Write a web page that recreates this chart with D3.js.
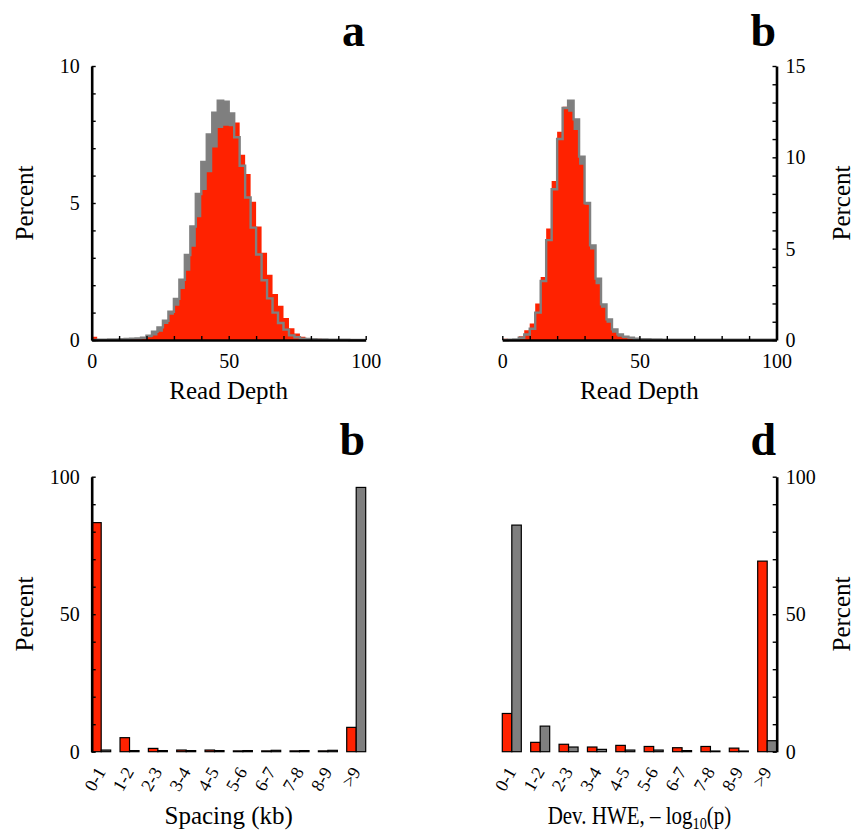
<!DOCTYPE html>
<html>
<head>
<meta charset="utf-8">
<script src="https://cdn.jsdelivr.net/npm/d3@7"></script>
<style>
  html, body { margin: 0; padding: 0; background: #fff; }
  svg text { font-family: "Liberation Serif", "Times New Roman", serif; fill: #000; }
</style>
</head>
<body>
<svg id="fig" width="857" height="831"></svg>
<script>
// ---- Read-depth histograms (bins of 2, percent of sites) ----
const binStarts = d3.range(0, 100, 2);

const depthARed = [
  0.12, 0.01, 0.01, 0.01, 0.02, 0.02, 0.02, 0.03, 0.03, 0.04,
  0.10, 0.16, 0.30, 0.58, 0.92, 1.25, 1.86, 2.53, 3.40, 4.48,
  5.47, 6.12, 7.03, 7.74, 7.82, 7.80, 7.94, 6.76, 6.06, 5.05,
  4.14, 3.18, 2.38, 1.68, 1.25, 0.80, 0.43, 0.24, 0.12, 0.07,
  0.05, 0.05, 0.04, 0.03, 0.02, 0.02, 0.01, 0.01, 0.01, 0.01
];
const depthAGrey = [
  0.00, 0.01, 0.01, 0.02, 0.02, 0.03, 0.04, 0.05, 0.06, 0.08,
  0.16, 0.30, 0.46, 0.70, 1.03, 1.50, 2.20, 3.10, 4.14, 5.33,
  6.50, 7.50, 8.30, 8.73, 8.70, 8.27, 7.40, 6.36, 5.20, 4.10,
  3.12, 2.18, 1.52, 1.00, 0.62, 0.38, 0.17, 0.10, 0.05, 0.04,
  0.03, 0.02, 0.02, 0.01, 0.01, 0.01, 0.01, 0.00, 0.00, 0.00
];
const depthBRed = [
  0.07, 0.03, 0.05, 0.20, 0.53, 0.90, 2.00, 3.45, 6.10, 8.70,
  11.40, 12.77, 12.50, 11.50, 9.60, 7.40, 4.96, 3.05, 1.77, 0.95,
  0.40, 0.18, 0.09, 0.05, 0.03, 0.02, 0.02, 0.01, 0.01, 0.01,
  0.01, 0.01, 0.00, 0.00, 0.00, 0.00, 0.00, 0.00, 0.00, 0.00,
  0.00, 0.00, 0.00, 0.00, 0.00, 0.00, 0.00, 0.00, 0.00, 0.00
];
const depthBGrey = [
  0.00, 0.01, 0.03, 0.12, 0.30, 0.62, 1.50, 3.23, 5.47, 8.25,
  11.00, 12.70, 13.10, 12.08, 10.04, 7.50, 5.18, 3.36, 1.95, 1.13,
  0.58, 0.31, 0.18, 0.13, 0.07, 0.05, 0.04, 0.03, 0.03, 0.02,
  0.02, 0.02, 0.01, 0.01, 0.01, 0.01, 0.01, 0.01, 0.01, 0.01,
  0.01, 0.01, 0.01, 0.01, 0.01, 0.01, 0.01, 0.01, 0.01, 0.01
];

// ---- Binned bar charts ----
const categories = ["0-1", "1-2", "2-3", "3-4", "4-5", "5-6", "6-7", "7-8", "8-9", ">9"];
const spacingRed  = [83.3, 5.1, 1.2, 0.6, 0.6, 0.3, 0.3, 0.3, 0.3, 8.85];
const spacingGrey = [0.6, 0.4, 0.4, 0.4, 0.4, 0.4, 0.5, 0.4, 0.5, 96.1];
const hweRed  = [13.9, 3.4, 2.7, 1.7, 2.3, 1.9, 1.45, 1.9, 1.3, 69.3];
const hweGrey = [82.4, 9.3, 1.7, 0.85, 0.6, 0.6, 0.4, 0.25, 0.25, 4.0];

// ---- Tick values ----
const depthTicks = d3.range(0, 101, 10);
const depthTickLabels = [0, 50, 100];
const pctATicks = d3.range(0, 11, 1), pctALabels = [0, 5, 10];
const pctBTicks = d3.range(0, 16, 1), pctBLabels = [0, 5, 10, 15];
const pctBarTicks = d3.range(0, 101, 10), pctBarLabels = [0, 50, 100];

const RED = "#ff2200", GREY = "#7f7f7f";
const SERIF = "Liberation Serif, Times New Roman, serif";
const svg = d3.select("#fig");

function styleAxis(g) {
  g.attr("font-family", SERIF);
  g.select(".domain").attr("stroke", "#000").attr("stroke-width", 2.6);
  g.selectAll(".tick line").attr("stroke", "#000").attr("stroke-width", 1.4);
  g.selectAll(".tick text").attr("font-size", 20).attr("font-family", SERIF);
}
function fmt(labels) { return d => labels.includes(d) ? d : ""; }

// ---- Histogram panel ----
function histogram(x, y, red, grey) {
  const pts = v => binStarts.map((b, i) => [b, v[i]]).concat([[100, v[v.length - 1]]]);
  const area = d3.area().x(d => x(d[0])).y0(y(0)).y1(d => y(d[1])).curve(d3.curveStepAfter);
  const line = d3.line().x(d => x(d[0])).y(d => y(d[1])).curve(d3.curveStepAfter);
  const g = svg.append("g");
  g.append("path").attr("d", area(pts(grey))).attr("fill", GREY);
  g.append("path").attr("d", area(pts(red))).attr("fill", RED);
  g.append("path").attr("d", line(pts(grey))).attr("fill", "none")
    .attr("stroke", "#808080").attr("stroke-width", 2.4);
}

// Panel a
const xA = d3.scaleLinear([0, 100], [91.7, 365.7]);
const yA = d3.scaleLinear([0, 10], [340, 66]);
histogram(xA, yA, depthARed, depthAGrey);
svg.append("g").attr("transform", `translate(0,${yA(0)})`)
  .call(d3.axisBottom(xA).tickValues(depthTicks).tickSize(-4).tickSizeOuter(0).tickPadding(14).tickFormat(fmt(depthTickLabels)))
  .call(styleAxis);
svg.append("g").attr("transform", `translate(${xA(0)},0)`)
  .call(d3.axisLeft(yA).tickValues(pctATicks).tickSize(-4).tickSizeOuter(0).tickPadding(12).tickFormat(fmt(pctALabels)))
  .call(styleAxis);

// Panel b
const xB = d3.scaleLinear([0, 100], [502.3, 776.5]);
const yB = d3.scaleLinear([0, 15], [340, 66]);
histogram(xB, yB, depthBRed, depthBGrey);
svg.append("g").attr("transform", `translate(0,${yB(0)})`)
  .call(d3.axisBottom(xB).tickValues(depthTicks).tickSize(-4).tickSizeOuter(0).tickPadding(14).tickFormat(fmt(depthTickLabels)))
  .call(styleAxis);
svg.append("g").attr("transform", `translate(${xB(100)},0)`)
  .call(d3.axisRight(yB).tickValues(pctBTicks).tickSize(-4).tickSizeOuter(0).tickPadding(9).tickFormat(fmt(pctBLabels)))
  .call(styleAxis);

// ---- Grouped bar panel ----
function bars(x, y, red, grey) {
  const sub = d3.scaleBand(["red", "grey"], [0, x.bandwidth()]);
  const rows = categories.map((c, i) => ({ c, vals: [["red", red[i]], ["grey", grey[i]]] }));
  const g = svg.append("g");
  g.selectAll("g").data(rows).join("g")
    .attr("transform", d => `translate(${x(d.c)},0)`)
    .selectAll("rect").data(d => d.vals).join("rect")
    .attr("x", d => sub(d[0]))
    .attr("width", sub.bandwidth())
    .attr("y", d => y(d[1]))
    .attr("height", d => y(0) - y(d[1]))
    .attr("fill", d => d[0] === "red" ? RED : GREY)
    .attr("stroke", "#000").attr("stroke-width", 1.2);
  // rotated category labels
  svg.append("g").selectAll("text").data(categories).join("text")
    .attr("transform", d => `translate(${x(d) + x.bandwidth() / 2 + 5},${y(0) + 20}) rotate(-60)`)
    .attr("text-anchor", "end")
    .attr("font-size", 18)
    .text(d => d);
}

// Panel c
const xC = d3.scaleBand(categories, [91.7, 365.7]).paddingInner(0.33).paddingOuter(0);
const yC = d3.scaleLinear([0, 100], [751.7, 476.7]);
bars(xC, yC, spacingRed, spacingGrey);
svg.append("g").attr("transform", `translate(${xC.range()[0]},0)`)
  .call(d3.axisLeft(yC).tickValues(pctBarTicks).tickSize(-4).tickSizeOuter(0).tickPadding(12).tickFormat(fmt(pctBarLabels)))
  .call(styleAxis);

// Panel d
const xD = d3.scaleBand(categories, [502.3, 776.7]).paddingInner(0.33).paddingOuter(0);
const yD = d3.scaleLinear([0, 100], [751.7, 476.7]);
bars(xD, yD, hweRed, hweGrey);
svg.append("g").attr("transform", `translate(${xD.range()[1]},0)`)
  .call(d3.axisRight(yD).tickValues(pctBarTicks).tickSize(-4).tickSizeOuter(0).tickPadding(9).tickFormat(fmt(pctBarLabels)))
  .call(styleAxis);

// ---- Titles and axis labels ----
const letter = (t, x, y) => svg.append("text").attr("x", x).attr("y", y)
  .attr("text-anchor", "end").attr("font-size", 46).attr("font-weight", "bold").text(t);
letter("a", 365, 46);
letter("b", 776, 46);
letter("b", 365, 455);
letter("d", 776, 455);

const label = (t, x, y, rot) => svg.append("text")
  .attr("transform", `translate(${x},${y})` + (rot ? " rotate(-90)" : ""))
  .attr("text-anchor", "middle").attr("font-size", 25).text(t);
label("Percent", 33, 203, true);
label("Percent", 850, 203, true);
label("Percent", 33, 614, true);
label("Percent", 850, 614, true);
label("Read Depth", 228.7, 399);
label("Read Depth", 639.4, 399);
label("Spacing (kb)", 228.7, 824);

// HWE axis title with subscripted base
const hwe = svg.append("text")
  .attr("transform", "translate(639.5,824) scale(0.84,1)")
  .attr("text-anchor", "middle").attr("font-size", 25);
hwe.append("tspan").text("Dev. HWE, \u2013 log");
hwe.append("tspan").attr("font-size", 17).attr("dy", 5).text("10");
hwe.append("tspan").attr("dy", -5).text("(p)");
</script>
</body>
</html>
